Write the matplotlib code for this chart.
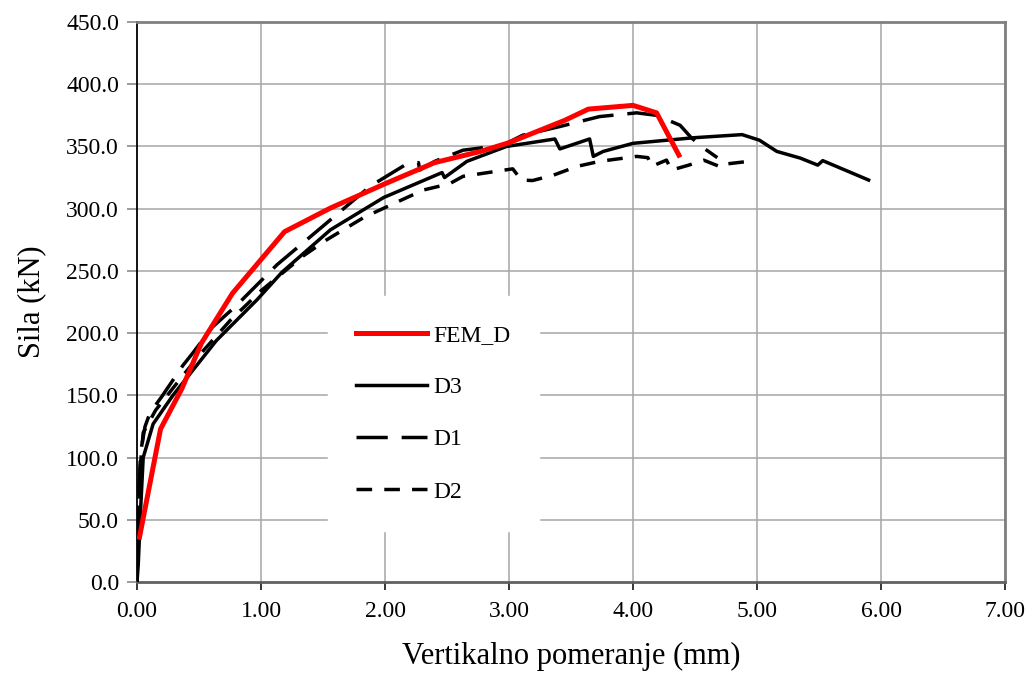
import matplotlib
matplotlib.use("Agg")
import matplotlib.pyplot as plt
import numpy as np

# Data (displacement mm, force kN)
fem_x = [0.02, 0.19, 0.36, 0.52, 0.77, 1.19, 1.56, 1.82, 2.00, 2.40, 2.77, 3.00,
         3.45, 3.64, 4.00, 4.19, 4.37]
fem_f = [36, 123, 155, 192, 232, 281.5, 300.5, 312, 320, 337, 346, 353,
         371, 380, 383, 377, 343]

d3_x = [0.00, 0.01, 0.03, 0.05, 0.13, 0.29, 0.64, 0.97, 1.17, 1.56, 1.99, 2.46,
        2.48, 2.66, 2.98, 3.37, 3.41, 3.65, 3.68, 3.76, 4.00, 4.49, 4.88, 5.02,
        5.16, 5.35, 5.49, 5.53, 5.90]
d3_f = [0, 14, 60, 100, 127, 150, 194, 227, 249, 283, 309, 329,
        325, 338, 350, 356, 348, 356, 342, 346, 352.5, 357, 359.5, 355,
        346, 340.6, 335, 338.6, 323]

d1_x = [0.00, 0.01, 0.03, 0.065, 0.105, 0.20, 0.37, 0.45, 0.61, 0.80, 1.13, 1.50,
        1.88, 2.16, 2.27, 2.28, 2.40, 2.63, 2.95, 3.11, 3.41, 3.73, 4.03, 4.19,
        4.38, 4.47, 4.58, 4.68]
d1_f = [0, 60, 105, 125, 136, 149, 174, 184, 205, 222, 255, 286,
        318, 335, 337, 331, 338, 347, 351, 359, 366, 374, 377, 375,
        367, 357, 348, 341]

d2_x = [0.00, 0.005, 0.02, 0.05, 0.15, 0.30, 0.50, 0.75, 1.00, 1.34, 1.53, 1.83,
        2.09, 2.31, 2.52, 2.63, 3.03, 3.10, 3.19, 3.36, 3.55, 3.73, 4.03, 4.12,
        4.15, 4.27, 4.31, 4.45, 4.57, 4.72, 4.76, 4.93, 4.96]
d2_f = [0, 30, 85, 120, 138, 157, 182, 210, 234, 262, 275, 293,
        305, 315, 320, 326, 332, 323, 322.6, 327, 334, 338, 342, 341,
        334, 339, 331, 335, 339, 333, 336, 338, 334]

x_ticks = np.arange(0, 7.01, 1.0)
y_ticks = np.arange(0, 450.1, 50.0)

plt.rcParams['font.family'] = ['Liberation Serif', 'DejaVu Serif']

fig = plt.figure(figsize=(10.33, 6.75), dpi=100)
ax = fig.add_axes([137 / 1033, 1 - 582 / 675, 868 / 1033, 560 / 675])

grid_col = '#a6a6a6'
for xv in x_ticks[1:]:
    ax.axvline(xv, color=grid_col, lw=1.1, zorder=0)
for yv in y_ticks[1:]:
    ax.axhline(yv, color=grid_col, lw=1.1, zorder=0)

ax.plot(fem_x, fem_f, color='#ff0000', lw=3.6, label='FEM_D', zorder=5)
ax.plot(d3_x, d3_f, color='black', lw=2.5, label='D3', zorder=4)
ax.plot(d1_x, d1_f, color='black', lw=2.5, dashes=(9, 4), label='D1', zorder=4)
ax.plot(d2_x, d2_f, color='black', lw=2.5, dashes=(4.5, 3.5), label='D2', zorder=4)

ax.set_xlim(0, 7)
ax.set_ylim(0, 450)
ax.set_xticks(x_ticks)
ax.set_xticklabels([f'{v:.2f}' for v in x_ticks])
ax.set_yticks(y_ticks)
ax.set_yticklabels([f'{v:.1f}' for v in y_ticks])

ax.tick_params(axis='x', direction='out', length=6, width=1.1, color='black',
               labelsize=17, pad=8)
ax.tick_params(axis='y', direction='out', length=7, width=1.1, color='#808080',
               labelsize=17, pad=6)

ax.spines['left'].set_color('black')
ax.spines['left'].set_linewidth(1.3)
ax.spines['bottom'].set_color('#606060')
ax.spines['bottom'].set_linewidth(2.0)
ax.spines['top'].set_color('#808080')
ax.spines['top'].set_linewidth(2.0)
ax.spines['right'].set_color('#808080')
ax.spines['right'].set_linewidth(2.0)

ax.set_xlabel('Vertikalno pomeranje (mm)', fontsize=22, labelpad=14)
ax.set_ylabel('Sila (kN)', fontsize=22, labelpad=14)

leg = ax.legend(loc='upper left', bbox_to_anchor=((328 - 137) / 868, (582 - 296) / 560),
                frameon=True, fontsize=17, handlelength=3.0, handletextpad=0.25,
                labelspacing=1.3, borderpad=1.2, borderaxespad=0)
leg.get_frame().set_facecolor('white')
leg.get_frame().set_edgecolor('white')
leg.get_frame().set_alpha(1)
leg.get_frame().set_boxstyle('square', pad=0)
leg.set_zorder(6)

fig.savefig('out.png', dpi=100, facecolor='white')
